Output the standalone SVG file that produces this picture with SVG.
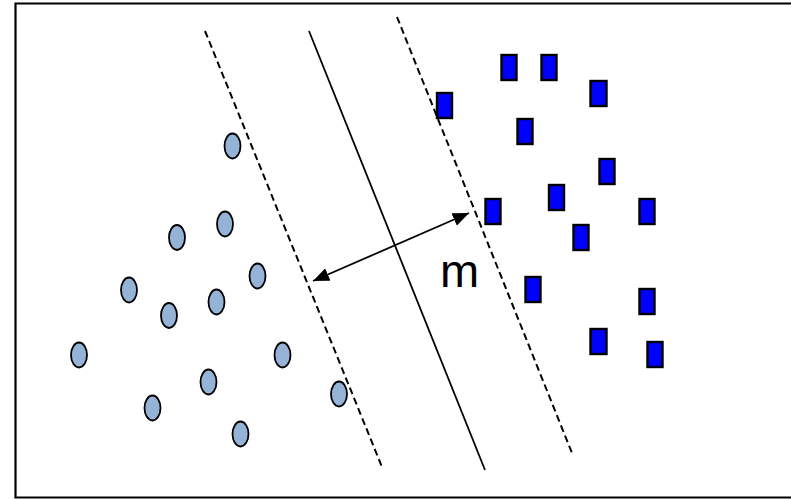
<svg xmlns="http://www.w3.org/2000/svg" width="791" height="499" viewBox="0 0 791 499">
<style>
.frame{fill:none;stroke:#000;stroke-width:2.2}
.dash{stroke:#000;stroke-width:2;stroke-dasharray:7 4;fill:none}
.solid{stroke:#000;stroke-width:1.8;fill:none}
.arrow{stroke:#000;stroke-width:1.8;fill:none;marker-start:url(#ah);marker-end:url(#ah)}
.pt{fill:#95B3D7;stroke:#000;stroke-width:1.8}
.sq{fill:#0000FF;stroke:#000;stroke-width:2.4}
.lbl{font-family:"Liberation Sans",Arial,sans-serif;font-size:47px;fill:#000}
</style>
<defs>
<marker id="ah" viewBox="0 0 12 10" refX="12" refY="5" markerWidth="9" markerHeight="7.5" orient="auto-start-reverse" markerUnits="strokeWidth">
<path d="M0,0 L12,5 L0,10 z" fill="#000"/>
</marker>
</defs>
<rect fill="#fff" x="0" y="0" width="791" height="499"/>
<path class="frame" d="M800,3.5 H15.5 V497.5 H800"/>
<g id="connectors">
<line class="dash" x1="205" y1="31" x2="382" y2="467"/>
<line class="solid" x1="309" y1="31" x2="485" y2="470"/>
<line class="dash" x1="397" y1="17" x2="572" y2="453"/>
<line class="arrow" x1="313" y1="281" x2="469" y2="213"/>
</g>
<g id="label-m"><text class="lbl" x="440" y="287">m</text></g>
<g id="circles">
<ellipse id="c1" class="pt" cx="232.5" cy="146" rx="8" ry="12.5"/>
<ellipse id="c2" class="pt" cx="225" cy="224" rx="8" ry="12.5"/>
<ellipse id="c3" class="pt" cx="177" cy="237.5" rx="8" ry="12.5"/>
<ellipse id="c4" class="pt" cx="257.5" cy="276" rx="8" ry="12.5"/>
<ellipse id="c5" class="pt" cx="129" cy="290" rx="8" ry="12.5"/>
<ellipse id="c6" class="pt" cx="216.5" cy="302" rx="8" ry="12.5"/>
<ellipse id="c7" class="pt" cx="169" cy="315.5" rx="8" ry="12.5"/>
<ellipse id="c8" class="pt" cx="79" cy="355" rx="8" ry="12.5"/>
<ellipse id="c9" class="pt" cx="282.5" cy="355" rx="8" ry="12.5"/>
<ellipse id="c10" class="pt" cx="208.5" cy="382" rx="8" ry="12.5"/>
<ellipse id="c11" class="pt" cx="152.5" cy="408" rx="8" ry="12.5"/>
<ellipse id="c12" class="pt" cx="240.5" cy="434" rx="8" ry="12.5"/>
<ellipse id="c13" class="pt" cx="339" cy="394" rx="8" ry="12.5"/>
</g>
<g id="squares">
<rect id="s1" class="sq" x="501.5" y="55" width="15" height="25"/>
<rect id="s2" class="sq" x="541.5" y="55" width="15" height="25"/>
<rect id="s3" class="sq" x="590.5" y="81" width="16" height="25"/>
<rect id="s4" class="sq" x="437" y="93" width="15" height="25"/>
<rect id="s5" class="sq" x="517.5" y="119" width="15" height="25"/>
<rect id="s6" class="sq" x="599.5" y="159" width="15" height="25"/>
<rect id="s7" class="sq" x="549" y="185" width="15" height="25"/>
<rect id="s8" class="sq" x="485.5" y="199" width="15" height="25"/>
<rect id="s9" class="sq" x="639.5" y="199" width="15" height="25"/>
<rect id="s10" class="sq" x="573.5" y="225" width="15" height="25"/>
<rect id="s11" class="sq" x="525.5" y="277" width="15" height="25"/>
<rect id="s12" class="sq" x="639.5" y="289" width="15" height="25"/>
<rect id="s13" class="sq" x="590.5" y="329" width="16" height="25"/>
<rect id="s14" class="sq" x="647.5" y="342" width="15" height="25"/>
</g>
</svg>
